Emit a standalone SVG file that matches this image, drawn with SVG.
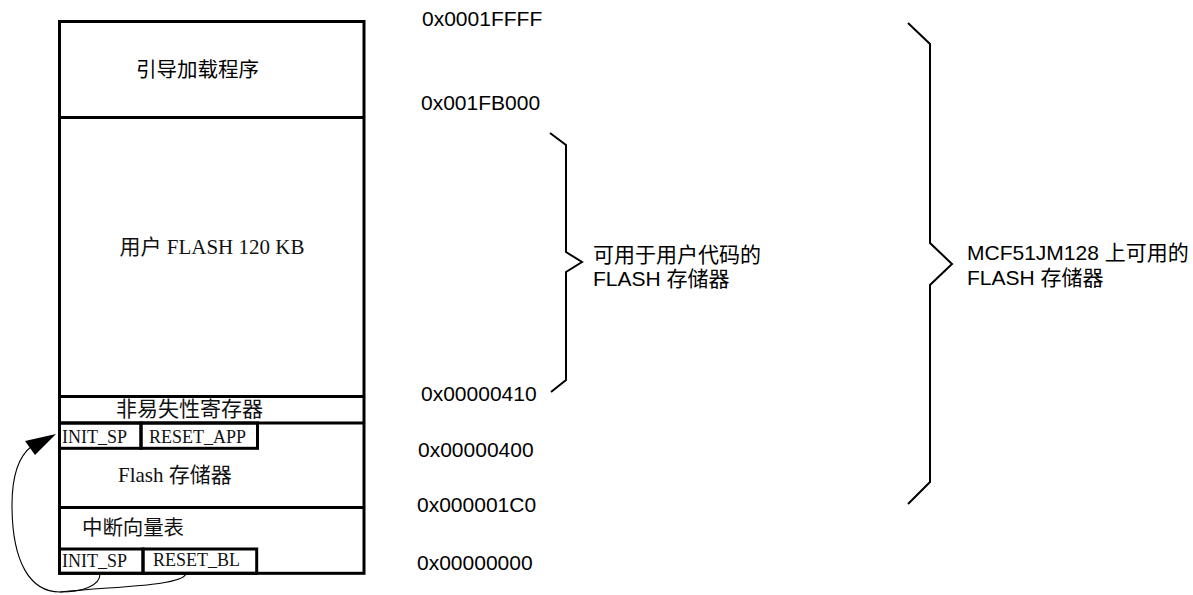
<svg xmlns="http://www.w3.org/2000/svg" width="1193" height="595" viewBox="0 0 1193 595">
<style>
.box{fill:none;stroke:#000;stroke-width:3}
.brace{fill:none;stroke:#000;stroke-width:2}
.conn{fill:none;stroke:#000;stroke-width:1.1}
.sans{font-family:"Liberation Sans","Noto Sans CJK SC",sans-serif;fill:#000}
.cjk{font-family:"Noto Sans CJK SC",sans-serif;fill:#000}
.serif{font-family:"Liberation Serif","Noto Sans CJK SC",serif;fill:#111}
.addr{font-size:21px}
</style>
<rect width="1193" height="595" fill="#fff"/>
<g id="memory-map">
<rect class="box" x="59.5" y="21.5" width="304.5" height="551.8"/>
<line class="box" x1="59.5" y1="117.5" x2="364" y2="117.5"/>
<line class="box" x1="59.5" y1="396.5" x2="364" y2="396.5"/>
<line class="box" x1="59.5" y1="423" x2="364" y2="423"/>
<line class="box" x1="59.5" y1="507.5" x2="364" y2="507.5"/>
</g>
<g id="bootloader"><text class="cjk" x="197.5" y="77" font-size="20.5" text-anchor="middle">引导加载程序</text></g>
<g id="user-flash"><text class="serif" x="212" y="254" font-size="21" text-anchor="middle">用户 FLASH 120 KB</text></g>
<g id="nvreg"><text class="serif" x="189.5" y="416" font-size="21" text-anchor="middle" textLength="147" lengthAdjust="spacing">非易失性寄存器</text></g>
<g id="app-vectors">
<rect class="box" x="59.5" y="423" width="81.5" height="25.3"/>
<text class="serif" x="62" y="443" font-size="18">INIT_SP</text>
<rect class="box" x="141" y="423" width="116.5" height="25.3"/>
<text class="serif" x="149" y="443" font-size="18">RESET_APP</text>
</g>
<g id="flash-mem"><text class="serif" x="118" y="482" font-size="21">Flash 存储器</text></g>
<g id="vector-table"><text class="serif" x="82" y="535" font-size="20.5" textLength="102" lengthAdjust="spacing">中断向量表</text></g>
<g id="bl-vectors">
<rect class="box" x="59.5" y="549" width="83.5" height="24.3"/>
<text class="serif" x="62" y="567" font-size="18">INIT_SP</text>
<rect class="box" x="143" y="549" width="113.7" height="24.3"/>
<text class="serif" x="153" y="566" font-size="18">RESET_BL</text>
</g>
<g id="addresses">
<text class="sans addr" x="422" y="26">0x0001FFFF</text>
<text class="sans addr" x="421" y="110">0x001FB000</text>
<text class="sans addr" x="421" y="401">0x00000410</text>
<text class="sans addr" x="418" y="457">0x00000400</text>
<text class="sans addr" x="417" y="512">0x000001C0</text>
<text class="sans addr" x="417" y="570">0x00000000</text>
</g>
<g id="brace-user">
<polyline class="brace" points="550,133 566,145 566,252 582,262 566,272 566,380 551,392"/>
<text class="sans" x="593" y="262" font-size="21">可用于用户代码的</text>
<text class="sans" x="593" y="286" font-size="21">FLASH 存储器</text>
</g>
<g id="brace-total">
<polyline class="brace" points="908,23 930,44 930,243 952,264 930,285 930,482 908,504"/>
<text class="sans" x="967" y="260" font-size="21">MCF51JM128 上可用的</text>
<text class="sans" x="967" y="285" font-size="21">FLASH 存储器</text>
</g>
<g id="connectors">
<path class="conn" d="M100 574 C100 586 82 592 60 592 C30 592 12 562 12 505 C12 472 20 455 32 446"/>
<path class="conn" d="M186 574 C180 586 120 586 60 592"/>
<polygon points="56,434 25,441 35,455" fill="#000"/>
</g>
</svg>
